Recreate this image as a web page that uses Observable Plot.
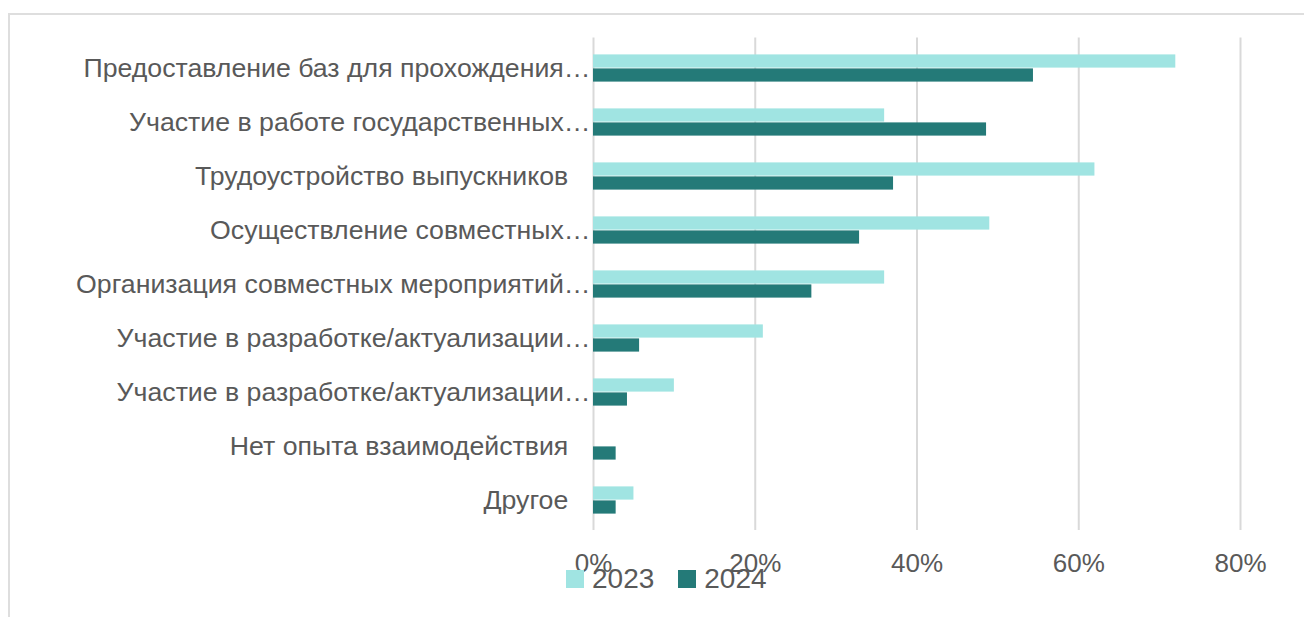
<!DOCTYPE html>
<html>
<head>
<meta charset="utf-8">
<script src="https://cdn.jsdelivr.net/npm/d3@7"></script>
<script src="https://cdn.jsdelivr.net/npm/@observablehq/plot@0.6"></script>
<style>
  html, body { margin: 0; padding: 0; background: #fff; }
  #wrap { position: relative; width: 1304px; height: 617px; overflow: hidden; font-family: "Liberation Sans", Arial, sans-serif; }
  #frame { position: absolute; left: 8px; top: 13px; right: 0; bottom: -4px; border-left: 2px solid #dedede; border-top: 2px solid #dedede; }
  #chart { position: absolute; left: 0; top: 0; }
  #legend { position: absolute; left: 566px; top: 565px; display: flex; align-items: center; font-size: 28px; line-height: 28px; color: #595959; }
  #legend .item { display: flex; align-items: center; margin-right: 24px; }
  #legend .sw { width: 18px; height: 18px; margin-right: 8px; }
</style>
</head>
<body>
<div id="wrap">
  <div id="frame"></div>
  <div id="chart"></div>
  <div id="legend"></div>
</div>
<script>
const categories = [
  "Предоставление баз для прохождения…",
  "Участие в работе государственных…",
  "Трудоустройство выпускников",
  "Осуществление совместных…",
  "Организация совместных мероприятий…",
  "Участие в разработке/актуализации…",
  "Участие в разработке/актуализации… ",
  "Нет опыта взаимодействия",
  "Другое"
];
const years = ["2023", "2024"];
const values2023 = [72, 36, 62, 49, 36, 21, 10, 0, 5];
const values2024 = [54.4, 48.6, 37.1, 32.9, 27.0, 5.7, 4.2, 2.8, 2.8];
const xTicks = [0, 20, 40, 60, 80];
const colors = ["#a0e4e2", "#247a78"];

const rows2023 = categories.map((c, i) => ({category: c, year: years[0], value: values2023[i]}));
const rows2024 = categories.map((c, i) => ({category: c, year: years[1], value: values2024[i]}));

const labelFormat = d => d.trim().endsWith("…") ? d.trim() : d + "\u00a0\u00a0\u00a0";

const chart = Plot.plot({
  width: 1304,
  height: 617,
  marginLeft: 593,
  marginRight: 64,
  marginTop: 37.6,
  marginBottom: 87,
  style: {fontFamily: "'Liberation Sans', Arial, sans-serif", fontSize: "26px", color: "#595959", background: "transparent"},
  x: {domain: [0, 80], ticks: xTicks, tickFormat: d => d + "%", label: null, tickSize: 0, tickPadding: 23},
  y: {domain: categories, padding: 0, label: null, tickSize: 0, tickPadding: 3, tickFormat: labelFormat, fontSize: 26.7},
  color: {domain: years, range: colors},
  marks: [
    Plot.ruleX(xTicks, {stroke: "#d9d9d9", strokeWidth: 2}),
    Plot.barX(rows2023, {x: "value", y: "category", fill: "year", insetTop: 13.4, insetBottom: 27.4}),
    Plot.barX(rows2024, {x: "value", y: "category", fill: "year", insetTop: 27.4, insetBottom: 13.4}),
    Plot.axisY({tickSize: 0, tickPadding: 3, tickFormat: labelFormat, fontSize: 26.7, label: null})
  ]
});
document.getElementById("chart").appendChild(chart);

const legend = document.getElementById("legend");
years.forEach((y, i) => {
  const item = document.createElement("div");
  item.className = "item";
  const sw = document.createElement("div");
  sw.className = "sw";
  sw.style.background = colors[i];
  const t = document.createElement("span");
  t.textContent = y;
  item.appendChild(sw);
  item.appendChild(t);
  legend.appendChild(item);
});
</script>
</body>
</html>
